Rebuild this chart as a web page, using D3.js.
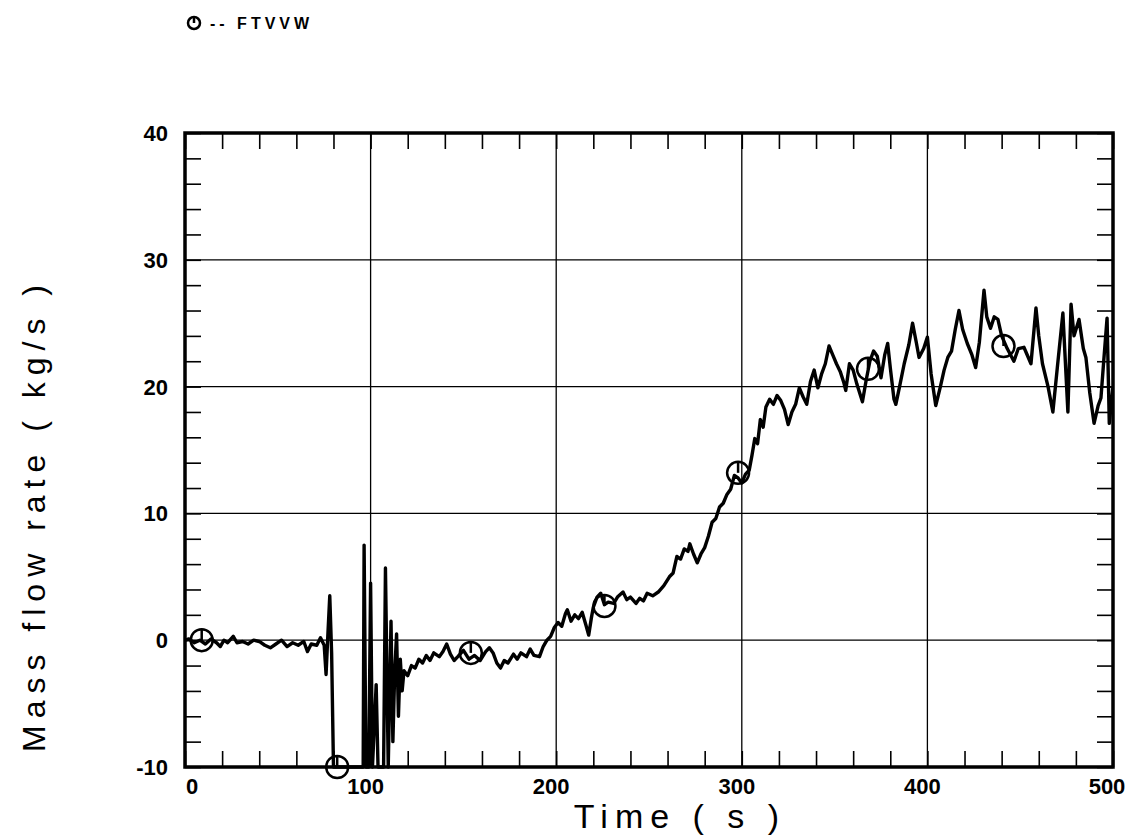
<!DOCTYPE html>
<html>
<head>
<meta charset="utf-8">
<script src="https://cdn.jsdelivr.net/npm/d3@7"></script>
<style>
  body { margin: 0; background: #fff; }
  svg { display: block; }
  text { font-family: "Liberation Sans", Arial, sans-serif; fill: #000; }
</style>
</head>
<body>
<svg width="1141" height="835"></svg>
<script>
// donnees : temps (s) et debit (kg/s)
var times = [0,2,5,8,11,14,17,19,21,23,26,28,31,34,37,40,43,46,49,52,55,58,61,64,66,68,71,73,75,76,77,78,79,80,
  96,96.5,97.5,99,100,101,103,104,107,108,109.5,111,112,113,114,115,116,117,118,120,122,124,126,128,130,132,134,137,139,
  141,143,145,147,150,153,156,159,162,164,166,168,170,172,174,177,179,181,184,186,188,191,193,195,197,199,
  201,203,205,206,208,210,212,214,216,217.5,219,220,222,224,226,228,231,233,236,238,240,243,245,247,249,252,255,258,
  261,263,265,267,269,271,272,274,276,278,280,282,284,286,288,290,292,294,296,298,300,302,304,305.5,307,308.5,310,311.5,
  313,315,317,319,321,323,325,327,329,331,333,335,337,339,341,343,345,347,349,351,353,355,356,358,360,362,365,367,369,
  371,373,375,377,378.6,380,382,383,385,387.5,390,392,394,395.5,398,400,402,404.5,407,409,411,413,415,417,419,421.5,424,
  426,428,430.5,432,434,436,438,440,443,446.6,449,452,455.8,458.5,460,462,465,467.6,470,473,475.7,477.4,479,481.7,484,
  485.4,487.5,489.8,492,493.5,495,496.8,498,500];
var flow = [0,0.1,-0.2,0,-0.3,0.1,-0.2,-0.5,0,-0.2,0.3,-0.2,-0.1,-0.3,0,-0.1,-0.4,-0.6,-0.3,0,-0.5,-0.2,-0.4,-0.1,-0.9,-0.3,-0.4,0.2,-0.4,-2.7,0.5,3.5,-1,-10,
  -10,7.5,-10,-10,4.5,-10,-3.5,-10,-10,5.7,-10,1.5,-8,-2.5,0.5,-6,-1.5,-4,-2.4,-2.8,-2.0,-2.2,-1.5,-1.8,-1.2,-1.6,-1.0,-1.3,-0.9,
  -0.3,-1.1,-1.6,-1.3,-0.8,-1.5,-1.2,-1.6,-0.9,-0.6,-1.0,-1.8,-2.2,-1.6,-1.8,-1.1,-1.5,-1.0,-1.3,-0.7,-1.2,-1.3,-0.5,0.0,0.3,1.0,
  1.4,1.1,2.1,2.4,1.5,2.0,1.7,2.2,1.2,0.4,1.8,2.6,3.4,3.7,2.8,3.0,2.9,3.4,3.8,3.2,3.4,2.9,3.3,3.1,3.7,3.5,3.8,4.3,
  5.0,5.3,6.6,6.4,7.2,7.0,7.6,6.8,6.1,6.8,7.3,8.2,9.3,9.6,10.5,10.8,11.5,11.9,13.0,12.8,12.4,13.1,13.4,14.6,15.9,15.5,17.4,16.8,
  18.4,19.0,18.6,19.3,18.9,18.2,17.0,18.0,18.6,19.9,19.2,18.6,20.4,21.3,19.9,21.0,21.8,23.2,22.5,21.8,21.2,20.3,19.7,21.8,21.3,20.2,18.8,20.5,22.0,
  22.8,22.4,20.7,22.5,23.4,21.5,19.0,18.6,20.0,21.8,23.3,25.0,23.5,22.3,23.0,23.9,21.0,18.5,20.0,21.3,22.3,22.8,24.5,26.0,24.5,23.4,22.5,
  21.5,23.5,27.6,25.5,24.6,25.5,25.3,24.0,23.0,22.0,23.0,23.1,21.8,26.2,24.0,21.8,20.0,18.0,21.5,25.8,18.0,26.5,24.0,25.3,23.0,
  22.3,19.5,17.1,18.5,19.1,22.0,25.4,17.1,20.0];

// symboles de la courbe FTVVW
var markerTimes = [9, 82, 154, 226, 298, 368, 441];
var markerFlow = [0, -10, -1, 2.7, 13.2, 21.4, 23.2];

var xMajor = [0, 100, 200, 300, 400, 500];
var yMajor = [-10, 0, 10, 20, 30, 40];
var seriesName = "-- FTVVW";

var svg = d3.select("svg");
var gauche = 185, droite = 1113, haut = 133, bas = 767;

var x = d3.scaleLinear().domain([0, 500]).range([gauche, droite]);
var y = d3.scaleLinear().domain([-10, 40]).range([bas, haut]);

var xMinor = d3.range(0, 501, 20);
var yMinor = d3.range(-10, 41, 2);

//grille
svg.append("g").selectAll("line").data(xMajor.slice(1, -1)).enter().append("line")
   .attr("x1", d => x(d)).attr("x2", d => x(d)).attr("y1", haut).attr("y2", bas)
   .attr("stroke", "#000").attr("stroke-width", 1.3);
svg.append("g").selectAll("line").data(yMajor.slice(1, -1)).enter().append("line")
   .attr("x1", gauche).attr("x2", droite).attr("y1", d => y(d)).attr("y2", d => y(d))
   .attr("stroke", "#000").attr("stroke-width", 1.3);

//graduations vers l'interieur
function ticks(g) { g.select(".domain").remove(); g.selectAll("text").remove(); g.selectAll("line").attr("stroke-width", 1.6); }
svg.append("g").attr("transform", "translate(0," + bas + ")").call(d3.axisBottom(x).tickValues(xMinor).tickSize(-16)).call(ticks);
svg.append("g").attr("transform", "translate(0," + haut + ")").call(d3.axisTop(x).tickValues(xMinor).tickSize(-16)).call(ticks);
svg.append("g").attr("transform", "translate(" + gauche + ",0)").call(d3.axisLeft(y).tickValues(yMinor).tickSize(-16)).call(ticks);
svg.append("g").attr("transform", "translate(" + droite + ",0)").call(d3.axisRight(y).tickValues(yMinor).tickSize(-16)).call(ticks);

//cadre
svg.append("rect").attr("x", gauche).attr("y", haut).attr("width", droite - gauche).attr("height", bas - haut)
   .attr("fill", "none").attr("stroke", "#000").attr("stroke-width", 3.5);

//etiquettes
svg.append("g").selectAll("text").data(xMajor).enter().append("text")
   .attr("x", d => x(d) + (d === 0 ? 7 : d === 500 ? -6 : -5)).attr("y", 794)
   .attr("text-anchor", "middle").attr("font-size", 22).attr("font-weight", "bold")
   .text(d => d);
svg.append("g").selectAll("text").data(yMajor).enter().append("text")
   .attr("x", 168).attr("y", d => y(d) + 8)
   .attr("text-anchor", "end").attr("font-size", 22).attr("font-weight", "bold")
   .text(d => d);

//titres des axes
svg.append("text").attr("x", 680).attr("y", 828).attr("text-anchor", "middle")
   .attr("font-size", 34).attr("letter-spacing", 7).text("Time ( s )");
svg.append("text").attr("transform", "translate(45,515) rotate(-90)").attr("text-anchor", "middle")
   .attr("font-size", 32).attr("letter-spacing", 7).text("Mass flow rate ( kg/s )");

//la courbe
svg.append("clipPath").attr("id", "clip").append("rect")
   .attr("x", gauche).attr("y", haut - 2).attr("width", droite - gauche).attr("height", bas - haut + 4);
var line = d3.line().x((d, i) => x(times[i])).y((d, i) => y(flow[i]));
svg.append("path").datum(flow).attr("d", line).attr("clip-path", "url(#clip)")
   .attr("fill", "none").attr("stroke", "#000").attr("stroke-width", 3.4).attr("stroke-linejoin", "round");

//symboles
function marker(g, r) {
  g.append("circle").attr("r", r).attr("fill", "none").attr("stroke", "#000").attr("stroke-width", 2.5);
  g.append("line").attr("x1", 0).attr("x2", 0).attr("y1", -r).attr("y2", 0).attr("stroke", "#000").attr("stroke-width", 2.5);
}
markerTimes.forEach(function(t, i) {
  marker(svg.append("g").attr("transform", "translate(" + x(t) + "," + y(markerFlow[i]) + ")"), 11);
});

//legende
marker(svg.append("g").attr("transform", "translate(194,23)"), 6);
svg.append("text").attr("x", 210).attr("y", 29).attr("font-size", 16).attr("font-weight", "bold")
   .attr("letter-spacing", 4).text(seriesName);
</script>
</body>
</html>
